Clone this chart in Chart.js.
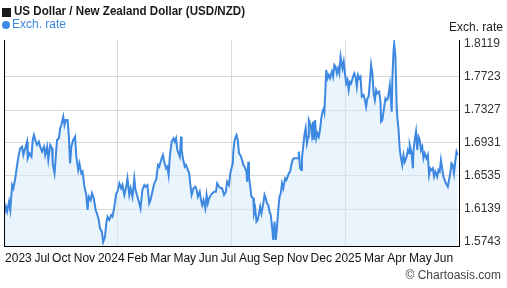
<!DOCTYPE html>
<html>
<head>
<meta charset="utf-8">
<script src="https://cdn.jsdelivr.net/npm/chart.js@4"></script>
<style>
  body { margin: 0; background: #fff; }
</style>
</head>
<body>
<canvas id="myChart" width="507" height="288"></canvas>
<script>
'use strict';

// ******* DATA *******

// days since start of the 2-year window
let days = [
  0, 3, 5, 8, 10, 13, 15, 18, 21, 23, 26, 29, 31, 34, 37, 38, 41, 44, 46, 48, 51, 53, 56, 58, 61, 64, 66, 69, 71, 74, 77, 78, 81, 83, 85, 88, 90, 92, 95, 97, 99, 102, 104, 106, 108, 111, 114, 116, 119,
  121, 124, 126, 129, 132, 134, 136, 139, 141, 144, 147, 149, 152, 154, 157, 159, 162, 164, 166, 169, 172, 174, 177, 180, 182, 185, 188, 190, 193, 196, 198, 201, 203, 206, 209, 211, 214, 217, 219, 222, 225, 227, 230, 233, 235, 238, 241,
  244, 247, 249, 252, 255, 257, 260, 262, 264, 266, 269, 272, 274, 276, 278, 280, 282, 284, 285, 287, 290, 292, 294, 297, 299, 301, 304, 307, 309, 311, 314, 316, 318, 320, 323, 325, 327, 329, 332, 334, 337, 340, 342, 345, 348, 350, 353, 356, 358, 361, 363,
  367, 368, 370, 373, 375, 377, 379, 382, 384, 386, 389, 390, 392, 393, 395, 397, 400, 401, 403, 405, 407, 409, 411, 413, 416, 418, 420, 422, 424, 426, 428, 430, 432, 434, 436, 438, 440, 442, 444, 446, 448, 451, 453, 455, 457, 459, 461, 463, 465, 468, 470, 472, 473, 475, 477, 478, 480, 482, 484, 486, 488,
  489, 492, 494, 496, 497, 499, 501, 503, 505, 507, 509, 511, 513, 514, 516, 517, 519, 521, 523, 526, 528, 530, 532, 534, 536, 538, 540, 543, 545, 547, 549, 551, 553, 555, 557, 560, 562, 564, 566, 568, 570, 572, 574, 577, 579, 581, 583, 585, 587, 589, 591, 593, 595, 597, 599, 602, 604, 605, 607, 610, 612,
  614, 616, 619, 620, 622, 623, 625, 626, 628, 630, 631, 633, 635, 637, 639, 641, 643, 646, 648, 650, 651, 654, 656, 657, 659, 661, 663, 665, 667, 669, 671, 673, 675, 678, 680, 682, 684, 686, 688, 690, 692, 695, 697, 699, 701, 703, 705, 707, 709, 712, 714, 716, 718, 720, 722, 724, 726, 728
];

let rates = [
  1.6067, 1.6167, 1.6107, 1.6227, 1.6127, 1.6427, 1.6387, 1.6507, 1.6667, 1.6767, 1.6867, 1.6887, 1.6787, 1.6867, 1.6947, 1.6747, 1.6807, 1.6767, 1.6967, 1.7027, 1.6947, 1.6907, 1.6947, 1.6887, 1.6827, 1.6887, 1.6787, 1.6887, 1.6727, 1.6907, 1.6867, 1.6687, 1.6567, 1.6767, 1.6967, 1.6987, 1.7107, 1.7147, 1.7247, 1.7147, 1.7207, 1.7207, 1.7007, 1.6687, 1.6887, 1.6967, 1.7007, 1.6767, 1.6607,
  1.6687, 1.6567, 1.6587, 1.6407, 1.6307, 1.6127, 1.6287, 1.6247, 1.6327, 1.6267, 1.6127, 1.6087, 1.6007, 1.5907, 1.5867, 1.5743, 1.5807, 1.5967, 1.6047, 1.6007, 1.6067, 1.6047, 1.6167, 1.6327, 1.6347, 1.6447, 1.6387, 1.6427, 1.6307, 1.6407, 1.6507, 1.6307, 1.6387, 1.6287, 1.6507, 1.6367, 1.6287, 1.6207, 1.6147, 1.6367, 1.6427, 1.6407, 1.6427, 1.6207, 1.6247, 1.6347, 1.6447,
  1.6487, 1.6667, 1.6647, 1.6727, 1.6787, 1.6707, 1.6627, 1.6647, 1.6547, 1.6767, 1.6947, 1.6987, 1.6947, 1.6987, 1.6847, 1.6807, 1.6767, 1.7007, 1.6847, 1.6747, 1.6647, 1.6667, 1.6627, 1.6567, 1.6427, 1.6307, 1.6387, 1.6407, 1.6367, 1.6287, 1.6347, 1.6247, 1.6187, 1.6247, 1.6147, 1.6307, 1.6207, 1.6267, 1.6307, 1.6327, 1.6347, 1.6347, 1.6447, 1.6407, 1.6387, 1.6387, 1.6307, 1.6347, 1.6467, 1.6427, 1.6567,
  1.6687, 1.6847, 1.6967, 1.7027, 1.6967, 1.6807, 1.6787, 1.6727, 1.6667, 1.6647, 1.6587, 1.6467, 1.6707, 1.6527, 1.6407, 1.6287, 1.6267, 1.6087, 1.6147, 1.5987, 1.6007, 1.6087, 1.6167, 1.6087, 1.6207, 1.6307, 1.6267, 1.6207, 1.6187, 1.6107, 1.6067, 1.5927, 1.5767, 1.5987, 1.5767, 1.5927, 1.6127, 1.6287, 1.6327, 1.6447, 1.6387, 1.6507, 1.6487, 1.6527, 1.6567, 1.6587, 1.6667, 1.6727, 1.6747, 1.6747, 1.6747, 1.6747, 1.6827, 1.6627, 1.6607, 1.6747, 1.6887, 1.7027, 1.7107, 1.6927, 1.7007,
  1.7207, 1.7147, 1.7027, 1.7187, 1.6967, 1.7207, 1.6987, 1.7047, 1.7007, 1.7087, 1.7227, 1.7307, 1.7347, 1.7307, 1.7627, 1.7807, 1.7707, 1.7747, 1.7707, 1.7787, 1.7727, 1.7867, 1.7847, 1.7767, 1.7827, 1.7767, 1.7967, 1.7827, 1.7907, 1.7767, 1.7647, 1.7687, 1.7567, 1.7667, 1.7647, 1.7727, 1.7767, 1.7727, 1.7607, 1.7747, 1.7707, 1.7727, 1.7487, 1.7507, 1.7447, 1.7367, 1.7467, 1.7487, 1.7667, 1.7867, 1.7767, 1.7527, 1.7447, 1.7567, 1.7527, 1.7547, 1.7427, 1.7187, 1.7207, 1.7367, 1.7467,
  1.7447, 1.7467, 1.7627, 1.7527, 1.7307, 1.7687, 1.8047, 1.8119, 1.7967, 1.7367, 1.7247, 1.7087, 1.6847, 1.6747, 1.6667, 1.6787, 1.6707, 1.6767, 1.6847, 1.6807, 1.6907, 1.6807, 1.6627, 1.6847, 1.6967, 1.7067, 1.6847, 1.7007, 1.6967, 1.6847, 1.6887, 1.6747, 1.6807, 1.6747, 1.6787, 1.6547, 1.6627, 1.6607, 1.6627, 1.6527, 1.6587, 1.6527, 1.6607, 1.6587, 1.6727, 1.6627, 1.6527, 1.6487, 1.6447, 1.6407, 1.6487, 1.6567, 1.6687, 1.6667, 1.6567, 1.6707, 1.6827, 1.6787
];

let yTicks = [1.5743, 1.6139, 1.6535, 1.6931, 1.7327, 1.7723, 1.8119];

let xLabels = ['2023', 'Jul', 'Oct', 'Nov', '2024', 'Feb', 'Mar', 'May', 'Jun', 'Jul', 'Aug', 'Sep', 'Nov', 'Dec', '2025', 'Mar', 'Apr', 'May', 'Jun'];
let xLabelDays = [23, 61, 92, 129, 172, 214, 251, 290, 328, 360, 394, 432, 471, 509, 552, 594, 630, 668, 705];

let gridDays = [182.5, 365, 547.5];

let titleText = 'US Dollar / New Zealand Dollar (USD/NZD)';
let seriesName = 'Exch. rate';


// ******* STYLE *******

let lineColor = '#3d88e0';
let fontFamily = '"Liberation Sans", Arial, sans-serif';


// ******* PLUGIN: title, legend, borders, credits *******

const decor = {
  id: 'decor',
  afterDraw(chart) {
    const ctx = chart.ctx;
    const a = chart.chartArea;
    ctx.save();

    ctx.strokeStyle = '#000';
    ctx.lineWidth = 1;
    ctx.beginPath();
    ctx.moveTo(a.left + 0.5, a.top);
    ctx.lineTo(a.left + 0.5, a.bottom);
    ctx.stroke();

    ctx.textBaseline = 'middle';
    ctx.fillStyle = '#1a1a1a';
    ctx.fillRect(2, 8, 9, 9);
    ctx.font = 'bold 12px ' + fontFamily;
    ctx.fillText(titleText, 14, 12, 231);

    ctx.fillStyle = lineColor;
    ctx.beginPath();
    ctx.arc(6, 25, 4, 0, Math.PI * 2);
    ctx.fill();
    ctx.font = '12px ' + fontFamily;
    ctx.fillText(seriesName, 12, 25);

    ctx.fillStyle = '#222';
    ctx.textAlign = 'right';
    ctx.fillText(seriesName, 503, 28);

    ctx.fillStyle = '#444';
    ctx.fillText('\u00A9 Chartoasis.com', 501, 276);
    ctx.restore();
  }
};


// ******* CHART *******

const ctx = document.getElementById('myChart').getContext('2d');
const myChart = new Chart(ctx, {
  type: 'line',
  data: {
    datasets: [{
      label: seriesName,
      data: days.map((d, i) => ({ x: d, y: rates[i] })),
      borderColor: lineColor,
      borderWidth: 2,
      backgroundColor: 'rgba(214, 233, 252, 0.5)',
      fill: 'start',
      pointRadius: 0,
      tension: 0
    }]
  },
  options: {
    responsive: false,
    animation: false,
    layout: { padding: { top: 40, left: 1, right: 0, bottom: 0 } },
    plugins: {
      legend: { display: false },
      title: { display: false },
      tooltip: { enabled: false }
    },
    scales: {
      x: {
        type: 'linear',
        min: 0,
        max: 730,
        grid: { display: false, drawTicks: false },
        border: { display: true, color: '#000', width: 1 },
        afterBuildTicks: (scale) => {
          scale.ticks = xLabelDays.map(v => ({ value: v }));
        },
        afterFit: (scale) => { scale.height = 42; },
        ticks: {
          autoSkip: false,
          maxRotation: 0,
          padding: 5,
          color: '#111',
          font: { family: fontFamily, size: 12 },
          callback: (value, index) => xLabels[index]
        }
      },
      xg: {
        type: 'linear',
        position: 'bottom',
        min: 0,
        max: 730,
        grid: { color: '#d9d9d9', drawTicks: false },
        border: { display: false },
        afterBuildTicks: (scale) => {
          scale.ticks = gridDays.map(v => ({ value: v }));
        },
        afterFit: (scale) => { scale.height = 0; },
        ticks: { display: false }
      },
      y: {
        position: 'right',
        min: 1.5695,
        max: 1.8167,
        grid: {
          drawTicks: false,
          color: (c) => (c.tick && (c.tick.value === yTicks[0] || c.tick.value === yTicks[yTicks.length - 1])) ? 'rgba(0,0,0,0)' : '#d9d9d9'
        },
        border: { display: true, color: '#000', width: 1 },
        afterBuildTicks: (scale) => {
          scale.ticks = yTicks.map(v => ({ value: v }));
        },
        afterFit: (scale) => { scale.width = 48; },
        ticks: {
          padding: 5,
          color: '#333',
          font: { family: fontFamily, size: 12 },
          callback: (value) => value.toFixed(4)
        }
      }
    }
  },
  plugins: [decor]
});
</script>
</body>
</html>
